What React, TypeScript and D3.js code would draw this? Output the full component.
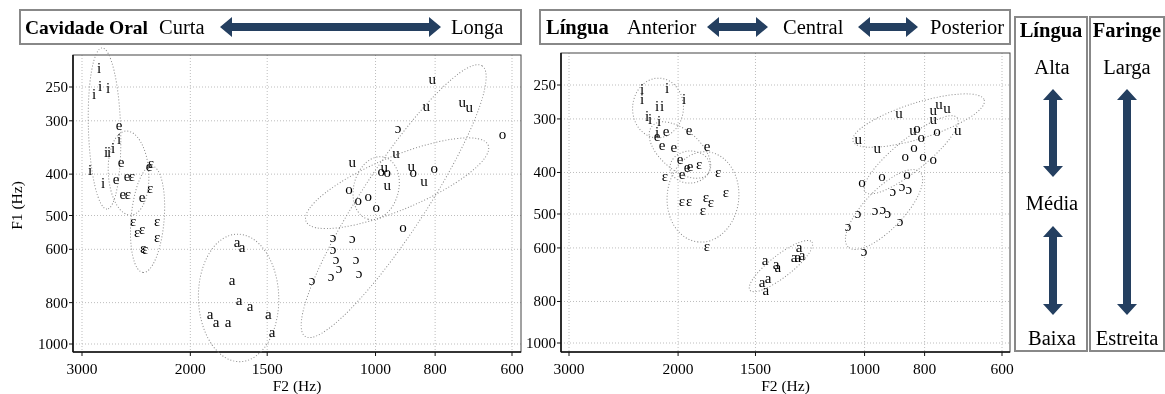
import React from 'react';
import * as d3 from 'd3';

const xTicks = [3000, 2000, 1500, 1000, 800, 600];
const yTicks = [250, 300, 400, 500, 600, 800, 1000];

// Left panel: [F2, F1]
const L_i = [[2815,227],[2868,261],[2804,250],[2722,253],[2742,357],[2711,357],[2671,350],[2612,333],[2911,394],[2773,422]];
const L_e = [[2612,309],[2592,377],[2641,413],[2535,407],[2574,448],[2396,456],[2334,385]];
const L_eps = [[2317,379],[2526,448],[2488,407],[2325,434],[2478,519],[2265,519],[2441,550],[2396,541],[2265,565],[2387,600],[2369,603]];
const L_a = [[1679,581],[1648,597],[1710,713],[1666,791],[1599,821],[1858,853],[1816,891],[1736,895],[1494,857],[1473,940]];
const L_u = [[809,241],[827,279],[723,273],[704,280],[926,359],[1091,377],[968,387],[875,385],[834,418],[957,427]];
const L_o = [[622,324],[979,396],[957,398],[868,398],[803,389],[1104,436],[1067,463],[1028,453],[997,481],[902,536]];
const L_oo = [[919,314],[1172,563],[1091,569],[1172,603],[1159,634],[1075,634],[1146,669],[1181,698],[1063,687],[1268,710]];

// Right panel: [F2, F1]
const R_i = [[2287,257],[2287,271],[2084,255],[1956,271],[2163,281],[2123,281],[2244,297],[2220,302],[2147,305],[2163,324]];
const R_e = [[2163,331],[2092,322],[1920,320],[2123,347],[2031,351],[1796,349],[1986,374],[1935,391],[1913,389],[1971,406]];
const R_eps = [[1850,384],[2100,410],[1724,401],[1674,447],[1971,469],[1920,469],[1803,459],[1770,471],[1823,492],[1796,597]];
const R_a = [[1448,644],[1390,658],[1380,669],[1464,725],[1431,710],[1443,757],[1300,634],[1281,634],[1261,627],[1276,600]];
const R_u = [[880,292],[1024,336],[954,353],[775,288],[758,278],[736,284],[775,302],[707,320],[835,320]];
const R_o = [[823,317],[810,332],[764,322],[832,351],[860,368],[805,368],[775,374],[854,406],[937,410],[1010,423]];
const R_oo = [[900,444],[870,433],[848,440],[1024,500],[962,492],[934,490],[917,500],[876,522],[1063,536],[1002,614]];

// Ellipses: major-axis endpoints [F2a, F1a, F2b, F1b] and minor/major ratio
const L_ell = [[2783,202.5,2732,483,0.2],[2544,317,2497,499,0.48],[2308,383,2387,680,0.31],[1679,553,1660,1100,0.63],[1301,960,671,223,0.2],[1297,516,656,342,0.27],[968,365,1028,510,0.7]];
const R_ell = [[2139,241,2171,332,0.85],[2204,312,1790,403,0.54],[2061,391,1776,386,0.8],[1790,358,1857,581,0.79],[1531,753,1216,581,0.28],[1044,338,641,271,0.26],[998,444,709,298,0.27],[814,399,1063,597,0.38]];

const leftSeries = [['i', L_i], ['e', L_e], ['ɛ', L_eps], ['a', L_a], ['u', L_u], ['o', L_o], ['ɔ', L_oo]];
const rightSeries = [['i', R_i], ['e', R_e], ['ɛ', R_eps], ['a', R_a], ['u', R_u], ['o', R_o], ['ɔ', R_oo]];

const FONT = '"Liberation Serif", "Times New Roman", serif';
const NAVY = '#243f60';
const HF = 20.5;

function Panel({ frame, xr, yr, series, ells, showYTitle }) {
  const x = d3.scaleLog().domain([3000, 600]).range(xr);
  const y = d3.scaleLog().domain([250, 1000]).range(yr);
  const [fx0, fy0, fx1, fy1] = frame;
  return (
    <g>
      {xTicks.map(t => (
        <line key={'gx' + t} x1={x(t)} x2={x(t)} y1={fy0} y2={fy1} stroke="#bdbdbd" strokeWidth={1} strokeDasharray="1,2" />
      ))}
      {yTicks.map(t => (
        <line key={'gy' + t} x1={fx0} x2={fx1} y1={y(t)} y2={y(t)} stroke="#bdbdbd" strokeWidth={1} strokeDasharray="1,2" />
      ))}
      <rect x={fx0} y={fy0} width={fx1 - fx0} height={fy1 - fy0} fill="none" stroke="#444" strokeWidth={1} />
      <line x1={fx0} x2={fx0} y1={fy0} y2={fy1} stroke="#111" strokeWidth={1.6} />
      <line x1={fx0} x2={fx1} y1={fy1} y2={fy1} stroke="#111" strokeWidth={1.6} />
      {xTicks.map(t => (
        <g key={'tx' + t}>
          <line x1={x(t)} x2={x(t)} y1={fy1} y2={fy1 + 4} stroke="#111" />
          <text x={x(t)} y={fy1 + 22} textAnchor="middle" fontSize={15.5} fontFamily={FONT}>{t}</text>
        </g>
      ))}
      {yTicks.map(t => (
        <g key={'ty' + t}>
          <line x1={fx0 - 4} x2={fx0} y1={y(t)} y2={y(t)} stroke="#111" />
          <text x={fx0 - 5} y={y(t) + 5} textAnchor="end" fontSize={15} fontFamily={FONT}>{t}</text>
        </g>
      ))}
      <text x={(fx0 + fx1) / 2} y={fy1 + 39} textAnchor="middle" fontSize={15.5} fontFamily={FONT}>F2 (Hz)</text>
      {showYTitle && (
        <text transform={`translate(22,${(fy0 + fy1) / 2 + 2}) rotate(-90)`} textAnchor="middle" fontSize={15.5} fontFamily={FONT}>F1 (Hz)</text>
      )}
      {ells.map((e, i) => {
        const [f2a, f1a, f2b, f1b, r] = e;
        const ax = x(f2a), ay = y(f1a), bx = x(f2b), by = y(f1b);
        const cx = (ax + bx) / 2, cy = (ay + by) / 2;
        const a = Math.hypot(bx - ax, by - ay) / 2;
        const ang = Math.atan2(by - ay, bx - ax) * 180 / Math.PI;
        return <ellipse key={'el' + i} cx={cx} cy={cy} rx={a} ry={a * r} transform={`rotate(${ang} ${cx} ${cy})`} fill="none" stroke="#8a8a8a" strokeWidth={1} strokeDasharray="1,2" />;
      })}
      {series.map(([v, pts]) => pts.map((p, j) => (
        <text key={v + j} x={x(p[0])} y={y(p[1]) + 4} textAnchor="middle" fontSize={15} fontFamily={FONT} fill="#000">{v}</text>
      )))}
    </g>
  );
}

function HArrow({ x1, x2, y }) {
  const s = 4, h = 10, l = 12;
  const pts = [[x1, y], [x1 + l, y - h], [x1 + l, y - s], [x2 - l, y - s], [x2 - l, y - h], [x2, y], [x2 - l, y + h], [x2 - l, y + s], [x1 + l, y + s], [x1 + l, y + h]];
  return <polygon points={pts.map(p => p.join(',')).join(' ')} fill={NAVY} />;
}
function VArrow({ x, y1, y2 }) {
  const s = 4, h = 10, l = 11;
  const pts = [[x, y1], [x + h, y1 + l], [x + s, y1 + l], [x + s, y2 - l], [x + h, y2 - l], [x, y2], [x - h, y2 - l], [x - s, y2 - l], [x - s, y1 + l], [x - h, y1 + l]];
  return <polygon points={pts.map(p => p.join(',')).join(' ')} fill={NAVY} />;
}

export default function App() {
  return (
    <svg width={1165} height={394} style={{ position: 'absolute', left: 0, top: 0, background: '#fff', willChange: 'transform' }} fontFamily={FONT}>
      <rect x={0} y={0} width={1165} height={394} fill="#fff" />
      {/* headers */}
      <rect x={20} y={10} width={501} height={34} fill="#fff" stroke="#888" strokeWidth={2} />
      <text x={25} y={34} fontSize={19.5} fontWeight="bold">Cavidade Oral</text>
      <text x={159} y={34} fontSize={HF}>Curta</text>
      <HArrow x1={220} x2={441} y={27} />
      <text x={451} y={34} fontSize={HF}>Longa</text>

      <rect x={540} y={10} width={470} height={34} fill="#fff" stroke="#888" strokeWidth={2} />
      <text x={546} y={34} fontSize={HF} fontWeight="bold">Língua</text>
      <text x={627} y={34} fontSize={HF}>Anterior</text>
      <HArrow x1={707} x2={768} y={27} />
      <text x={783} y={34} fontSize={HF}>Central</text>
      <HArrow x1={858} x2={918} y={27} />
      <text x={930} y={34} fontSize={HF}>Posterior</text>

      <rect x={1015} y={17} width={72} height={334} fill="#fff" stroke="#888" strokeWidth={2} />
      <rect x={1090} y={17} width={74} height={334} fill="#fff" stroke="#888" strokeWidth={2} />
      <text x={1051} y={37} textAnchor="middle" fontSize={HF} fontWeight="bold">Língua</text>
      <text x={1052} y={74} textAnchor="middle" fontSize={HF}>Alta</text>
      <VArrow x={1053} y1={89} y2={177} />
      <text x={1052} y={210} textAnchor="middle" fontSize={HF}>Média</text>
      <VArrow x={1053} y1={226} y2={315} />
      <text x={1052} y={345} textAnchor="middle" fontSize={HF}>Baixa</text>
      <text x={1127} y={37} textAnchor="middle" fontSize={HF} fontWeight="bold">Faringe</text>
      <text x={1127} y={74} textAnchor="middle" fontSize={HF}>Larga</text>
      <VArrow x={1127} y1={89} y2={315} />
      <text x={1127} y={345} textAnchor="middle" fontSize={HF}>Estreita</text>

      <Panel frame={[73, 55, 521, 352]} xr={[82, 512]} yr={[87, 344]} series={leftSeries} ells={L_ell} showYTitle={true} />
      <Panel frame={[561, 53, 1010, 352]} xr={[569, 1002]} yr={[85, 343]} series={rightSeries} ells={R_ell} showYTitle={false} />
    </svg>
  );
}
